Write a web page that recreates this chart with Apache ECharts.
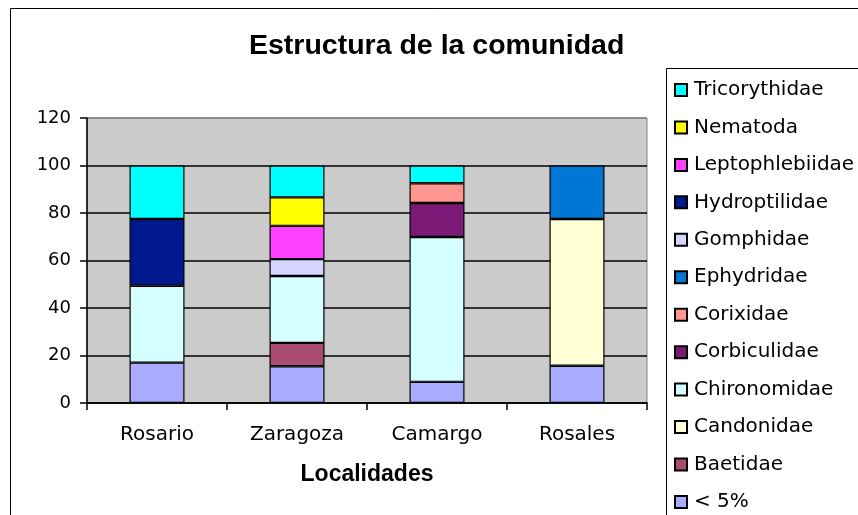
<!DOCTYPE html>
<html>
<head>
<meta charset="utf-8">
<script src="https://cdn.jsdelivr.net/npm/echarts@6/dist/echarts.min.js"></script>
<style>
  html, body { margin: 0; padding: 0; background: #fff; }
  #chart { width: 858px; height: 515px; }
</style>
</head>
<body>
<div id="chart"></div>
<script>
// localidades
const categories = ["Rosario", "Zaragoza", "Camargo", "Rosales"];
const yTicks = [0, 20, 40, 60, 80, 100, 120];

// valores (%) por familia, de abajo hacia arriba en la pila
const menos5 = [17, 15.5, 8.9, 15.7];
const baetidae = [null, 9.8, null, null];
const candonidae = [null, null, null, 61.8];
const chironomidae = [32.4, 28.2, 61, null];
const corbiculidae = [null, null, 14.3, null];
const corixidae = [null, null, 8.3, null];
const ephydridae = [null, null, null, 22.5];
const gomphidae = [null, 7.1, null, null];
const hydroptilidae = [28.1, null, null, null];
const leptophlebiidae = [null, 14, null, null];
const nematoda = [null, 12, null, null];
const tricorythidae = [22.5, 13.4, 7.5, null];

const seriesDefs = [
  ["< 5%", menos5, "#AAAAFF"],
  ["Baetidae", baetidae, "#A84C74"],
  ["Candonidae", candonidae, "#FFFFD5"],
  ["Chironomidae", chironomidae, "#D5FFFF"],
  ["Corbiculidae", corbiculidae, "#7B1A76"],
  ["Corixidae", corixidae, "#FF968F"],
  ["Ephydridae", ephydridae, "#0077D5"],
  ["Gomphidae", gomphidae, "#D5D5FF"],
  ["Hydroptilidae", hydroptilidae, "#00198F"],
  ["Leptophlebiidae", leptophlebiidae, "#FF40FF"],
  ["Nematoda", nematoda, "#FFFF00"],
  ["Tricorythidae", tricorythidae, "#00FFFF"],
];

const chart = echarts.init(document.getElementById("chart"));

const option = {
  animation: false,
  backgroundColor: "#fff",
  title: {
    text: "Estructura de la comunidad",
    left: 249,
    top: 32,
    padding: 0,
    textStyle: {
      fontFamily: "Liberation Sans",
      fontWeight: "bold",
      fontSize: 28.5,
      color: "#000",
    },
  },
  graphic: [
    {
      type: "rect",
      z: 0,
      shape: { x: 10.5, y: 8.5, width: 900, height: 600 },
      style: { fill: "none", stroke: "#000", lineWidth: 1 },
    },
    {
      type: "rect",
      z: 1,
      shape: { x: 666.5, y: 68.5, width: 300, height: 500 },
      style: { fill: "#fff", stroke: "#000", lineWidth: 1 },
    },
  ],
  legend: {
    orient: "vertical",
    left: 674,
    top: 80,
    padding: 0,
    itemWidth: 12,
    itemHeight: 12,
    itemGap: 17.45,
    icon: "rect",
    data: seriesDefs.map((d) => d[0]).reverse(),
    textStyle: {
      fontFamily: "DejaVu Sans",
      fontSize: 20,
      lineHeight: 20,
      color: "#000",
      padding: [0, 0, 0, 2],
    },
  },
  grid: {
    left: 87,
    top: 118,
    width: 560,
    height: 285,
    show: true,
    backgroundColor: "#CBCBCB",
    borderColor: "#808080",
    borderWidth: 1,
  },
  xAxis: {
    type: "category",
    data: categories,
    name: "Localidades",
    nameLocation: "middle",
    nameGap: 60,
    nameTextStyle: {
      fontFamily: "Liberation Sans",
      fontWeight: "bold",
      fontSize: 23,
      color: "#000",
    },
    axisLine: { lineStyle: { color: "#000", width: 1.5 } },
    axisTick: { show: true, length: 7, lineStyle: { color: "#000", width: 1.5 } },
    axisLabel: {
      margin: 22,
      fontFamily: "DejaVu Sans",
      fontSize: 20,
      color: "#000",
    },
  },
  yAxis: {
    type: "value",
    min: yTicks[0],
    max: yTicks[yTicks.length - 1],
    interval: 20,
    axisLine: { show: true, lineStyle: { color: "#000", width: 1.5 } },
    axisTick: { show: true, length: 7, lineStyle: { color: "#000", width: 1.5 } },
    axisLabel: {
      margin: 16,
      fontFamily: "DejaVu Sans",
      fontSize: 18,
      color: "#000",
    },
    splitLine: {
      lineStyle: {
        color: ["#000", "#000", "#000", "#000", "#000", "#000", "#808080"],
        width: 1.5,
      },
    },
  },
  series: seriesDefs.map(([name, values, color]) => ({
    name: name,
    type: "bar",
    stack: "total",
    barWidth: 55,
    data: values,
    itemStyle: { color: color, borderColor: "#000", borderWidth: 1.2 },
  })),
};

chart.setOption(option);
</script>
</body>
</html>
